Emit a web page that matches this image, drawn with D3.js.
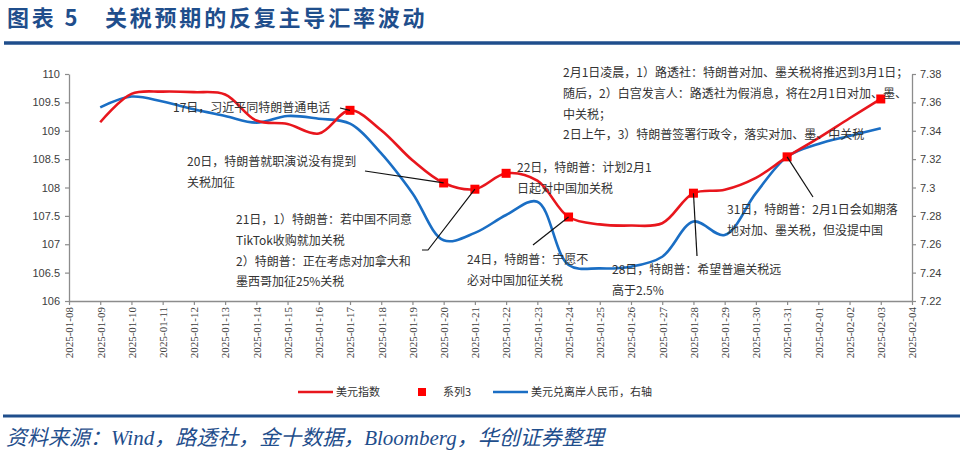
<!DOCTYPE html>
<html>
<head>
<meta charset="utf-8">
<script src="https://cdn.jsdelivr.net/npm/d3@7"></script>
<style>
  body { margin: 0; background: #fff; }
  svg { display: block; }
</style>
</head>
<body>
<div id="chart"></div>
<script>
// axis ticks (daily, 2025-01-08 .. 2025-02-04)
let tickDates = ["2025-01-08", "2025-01-09", "2025-01-10", "2025-01-11", "2025-01-12", "2025-01-13", "2025-01-14",
  "2025-01-15", "2025-01-16", "2025-01-17", "2025-01-18", "2025-01-19", "2025-01-20", "2025-01-21",
  "2025-01-22", "2025-01-23", "2025-01-24", "2025-01-25", "2025-01-26", "2025-01-27", "2025-01-28",
  "2025-01-29", "2025-01-30", "2025-01-31", "2025-02-01", "2025-02-02", "2025-02-03", "2025-02-04"];

let dates = tickDates.slice(1, 27);

// 美元指数 (left axis)
let dxy = [109.15, 109.65, 109.69, 109.68, 109.64, 109.18, 109.12, 108.95, 109.36, 109.01,
  108.48, 108.08, 107.97, 108.25, 108.12, 107.48, 107.35, 107.33, 107.37, 107.90,
  107.96, 108.17, 108.54, 108.87, 109.22, 109.56];

// 美元兑离岸人民币 (right axis)
let cnh = [7.3565, 7.3641, 7.3606, 7.3551, 7.3504, 7.3457, 7.3504, 7.3485, 7.3450, 7.3240,
  7.2960, 7.2628, 7.2680, 7.2806, 7.2900, 7.2454, 7.2430, 7.2442, 7.2512, 7.2760,
  7.2665, 7.2960, 7.3217, 7.3307, 7.3363, 7.3417];

// 系列3 : event days
let eventDates = ["2025-01-17", "2025-01-20", "2025-01-21", "2025-01-22", "2025-01-24", "2025-01-28", "2025-01-31", "2025-02-03"];

let leftTicks = [106, 106.5, 107, 107.5, 108, 108.5, 109, 109.5, 110];
let rightTicks = [7.22, 7.24, 7.26, 7.28, 7.3, 7.32, 7.34, 7.36, 7.38];

// annotations: text block position + anchor date for the connector
let notes = [
  { lines: ["17日，习近平同特朗普通电话"], x: 173, y: 112, from: [340, 108], date: "2025-01-17" },
  { lines: ["20日，特朗普就职演说没有提到", "关税加征"], x: 187, y: 166, from: [365, 171], date: "2025-01-20" },
  { lines: ["21日，1）特朗普：若中国不同意", "TikTok收购就加关税", "2）特朗普：正在考虑对加拿大和", "墨西哥加征25%关税"],
    x: 236, y: 224, from: [422, 250], mid: [428, 250], date: "2025-01-21" },
  { lines: ["22日，特朗普：计划2月1", "日起对中国加关税"], x: 517, y: 172, date: null },
  { lines: ["24日，特朗普：宁愿不", "必对中国加征关税"], x: 467, y: 264, from: [533, 245], date: "2025-01-24" },
  { lines: ["28日，特朗普：希望普遍关税远", "高于2.5%"], x: 612, y: 274, from: [697, 256], date: "2025-01-28" },
  { lines: ["31日，特朗普：2月1日会如期落", "地对加、墨关税，但没提中国"], x: 727, y: 214, from: [813, 197], date: "2025-01-31" },
  { lines: ["2月1日凌晨，1）路透社：特朗普对加、墨关税将推迟到3月1日；", "随后，2）白宫发言人：路透社为假消息，将在2月1日对加、墨、",
    "中关税；", "2日上午，3）特朗普签署行政令，落实对加、墨、中关税"], x: 563, y: 77, date: null }
];

let width = 960, height = 454;
let plotLeft = 69, plotRight = 912, plotTop = 74, plotBottom = 301;

let svg = d3.select('#chart').append('svg')
  .attr('width', width)
  .attr('height', height);

svg.append('rect').attr('width', width).attr('height', height).attr('fill', '#fff');

// title
let blue = '#1F4E8C';
svg.append('text')
  .attr('x', 7).attr('y', 26)
  .attr('fill', blue)
  .style('font-family', '"Noto Sans CJK SC", sans-serif')
  .style('font-weight', 'bold')
  .style('font-size', '22px')
  .style('letter-spacing', '2.8px')
  .text('图表 5\u2003关税预期的反复主导汇率波动');

svg.append('line')
  .attr('x1', 4).attr('x2', width).attr('y1', 43).attr('y2', 43)
  .attr('stroke', blue).attr('stroke-width', 3.5);

// scales
let x = d3.scalePoint().domain(tickDates).range([plotLeft, plotRight]);
let yL = d3.scaleLinear().domain([106, 110]).range([plotBottom, plotTop]);
let yR = d3.scaleLinear().domain([7.22, 7.38]).range([plotBottom, plotTop]);

// axes
let axisColor = '#8c8c8c';

let gx = svg.append('g')
  .attr('transform', 'translate(0,' + plotBottom + ')')
  .call(d3.axisBottom(x).tickSize(4).tickSizeOuter(0));
gx.selectAll('text')
  .attr('transform', 'rotate(-90)')
  .attr('x', -6).attr('y', 0).attr('dy', '0.35em')
  .style('text-anchor', 'end')
  .style('font-family', '"Liberation Serif", serif')
  .style('font-size', '11px')
  .attr('fill', '#404040');

let gl = svg.append('g')
  .attr('transform', 'translate(' + plotLeft + ',0)')
  .call(d3.axisLeft(yL).tickValues(leftTicks).tickFormat(String).tickSize(4).tickSizeOuter(0));
gl.selectAll('text')
  .attr('x', -9)
  .style('font-family', '"Liberation Sans", sans-serif')
  .style('font-size', '11px')
  .attr('fill', '#404040');

let gr = svg.append('g')
  .attr('transform', 'translate(' + plotRight + ',0)')
  .call(d3.axisRight(yR).tickValues(rightTicks).tickFormat(String).tickSize(4).tickSizeOuter(0));
gr.selectAll('text')
  .attr('x', 8)
  .style('font-family', '"Liberation Sans", sans-serif')
  .style('font-size', '11px')
  .attr('fill', '#404040');

[gx, gl, gr].forEach(function(g) {
  g.select('.domain').attr('stroke', axisColor).attr('stroke-width', 1.3);
  g.selectAll('.tick line').attr('stroke', axisColor).attr('stroke-width', 1.2);
});

// lines
let red = '#E8161D', lineBlue = '#1A6EC4';

let lineL = d3.line()
  .x(function(d, i) { return x(dates[i]) })
  .y(function(d) { return yL(d) })
  .curve(d3.curveCatmullRom.alpha(0.5));

let lineR = d3.line()
  .x(function(d, i) { return x(dates[i]) })
  .y(function(d) { return yR(d) })
  .curve(d3.curveCatmullRom.alpha(0.5));

svg.append('path').datum(cnh)
  .attr('d', lineR)
  .attr('fill', 'none').attr('stroke', lineBlue).attr('stroke-width', 2.6);

svg.append('path').datum(dxy)
  .attr('d', lineL)
  .attr('fill', 'none').attr('stroke', red).attr('stroke-width', 2.6);

// event squares
let ev = eventDates.map(function(d) { return { date: d, v: dxy[dates.indexOf(d)] } });

svg.selectAll('.sq')
  .data(ev)
  .enter().append('rect').classed('sq', true)
  .attr('x', function(d) { return x(d.date) - 4.5 })
  .attr('y', function(d) { return yL(d.v) - 4.5 })
  .attr('width', 9).attr('height', 9)
  .attr('fill', '#FF0000');

// annotations
let noteFont = '"Noto Sans CJK SC", sans-serif';
notes.forEach(function(n) {
  if (n.date) {
    let px = x(n.date), py = yL(dxy[dates.indexOf(n.date)]);
    let pts = [n.from];
    if (n.mid) pts.push(n.mid);
    pts.push([px, py]);
    svg.append('path')
      .attr('d', d3.line()(pts))
      .attr('fill', 'none').attr('stroke', '#111').attr('stroke-width', 1.2);
  }
  let t = svg.append('text')
    .attr('x', n.x).attr('y', n.y)
    .attr('fill', '#333')
    .style('font-family', noteFont)
    .style('font-size', '12px');
  n.lines.forEach(function(s, i) {
    t.append('tspan').attr('x', n.x).attr('dy', i === 0 ? 0 : 20.8).text(s);
  });
});

// legend
let lg = svg.append('g').attr('transform', 'translate(0,392)');
let legFont = '"Noto Sans CJK SC", sans-serif';
lg.append('line').attr('x1', 298).attr('x2', 333).attr('y1', 0).attr('y2', 0)
  .attr('stroke', red).attr('stroke-width', 2.5);
lg.append('text').attr('x', 336).attr('y', 4).text('美元指数');
lg.append('rect').attr('x', 418).attr('y', -4).attr('width', 8).attr('height', 8).attr('fill', '#FF0000');
lg.append('text').attr('x', 443).attr('y', 4).text('系列3');
lg.append('line').attr('x1', 493).attr('x2', 528).attr('y1', 0).attr('y2', 0)
  .attr('stroke', lineBlue).attr('stroke-width', 2.5);
lg.append('text').attr('x', 531).attr('y', 4).text('美元兑离岸人民币，右轴');
lg.selectAll('text')
  .style('font-family', legFont)
  .style('font-size', '11px')
  .attr('fill', '#333');

// source
svg.append('line')
  .attr('x1', 3).attr('x2', width).attr('y1', 416).attr('y2', 416)
  .attr('stroke', blue).attr('stroke-width', 3);

svg.append('text')
  .attr('x', 6).attr('y', 445)
  .attr('fill', blue)
  .style('font-family', '"Liberation Serif", "Noto Sans CJK SC", serif')
  .style('font-style', 'italic')
  .style('font-size', '21px')
  .text('资料来源：Wind，路透社，金十数据，Bloomberg，华创证券整理');
</script>
</body>
</html>
